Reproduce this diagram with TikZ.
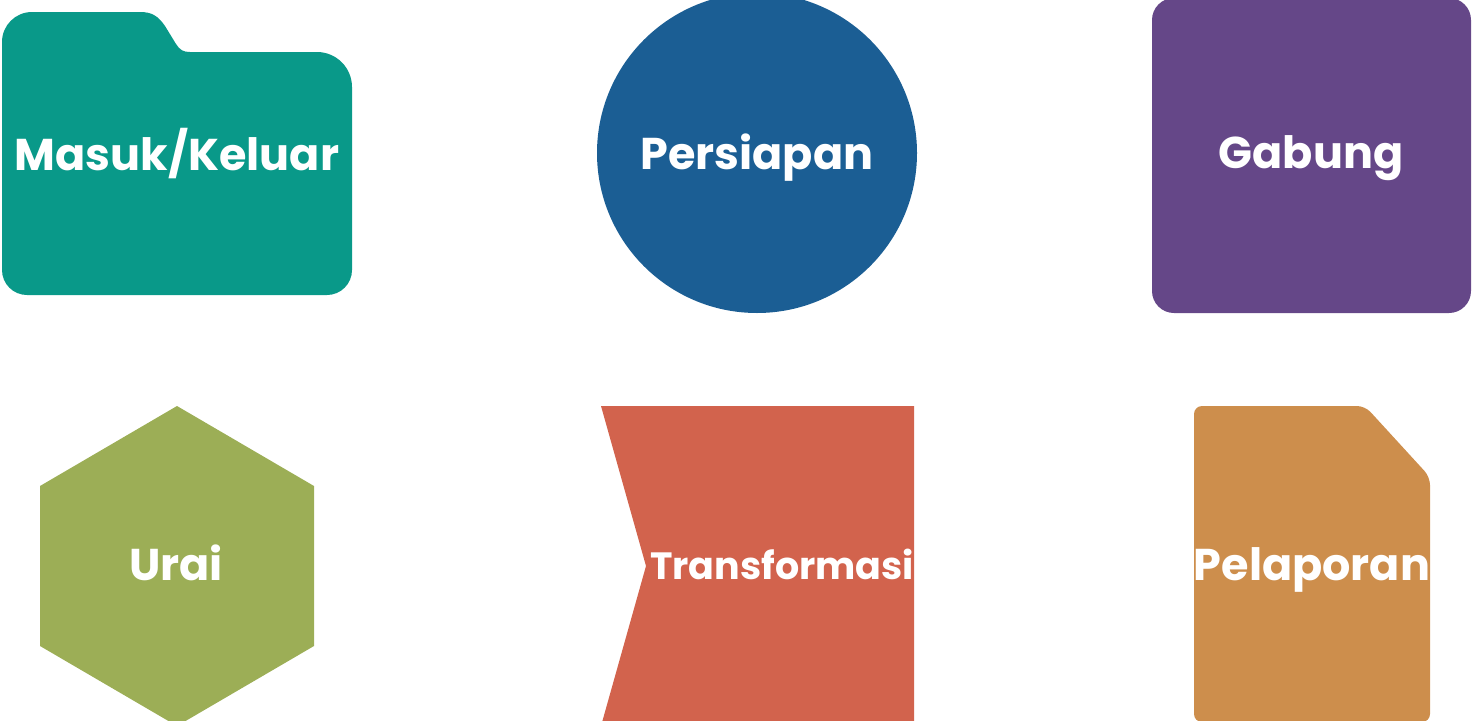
\documentclass[tikz,border=0pt]{standalone}
\usepackage{fontspec}
\setmainfont{Poppins}
\definecolor{cteal}{HTML}{099989}
\definecolor{cblue}{HTML}{1B5E94}
\definecolor{cpurple}{HTML}{654788}
\definecolor{cgreen}{HTML}{9CAE56}
\definecolor{cred}{HTML}{D2634D}
\definecolor{corange}{HTML}{CD8E4C}
\tikzset{
  lbl/.style={text=white, font=\fontsize{44.5}{53}\selectfont\bfseries, inner sep=0pt, anchor=base},
}
\begin{document}
\begin{tikzpicture}[x=1pt,y=-1pt]
\useasboundingbox (0,0) rectangle (1472,720);
\begin{scope}
\clip (0,0) rectangle (1472,720);
% folder
\fill[cteal] (2,265) -- (2,42) .. controls (2,25.4) and (15.4,12) .. (32,12)
  -- (140,12) .. controls (152,12) and (158,16) .. (165,26)
  -- (176,44) .. controls (180,50) and (183,52) .. (190,52)
  -- (317,52) .. controls (336.3,52) and (352,67.7) .. (352,87)
  -- (352,270) .. controls (352,283.8) and (340.8,295) .. (327,295)
  -- (27,295) .. controls (13.2,295) and (2,283.8) .. (2,270) -- cycle;
% circle
\fill[cblue] (757,153) circle[radius=160];
% rounded square
\fill[cpurple, rounded corners=22] (1152,-2) rectangle (1471,313);
% hexagon
\fill[cgreen] (177,406) -- (314,486) -- (314,646) -- (177,726) -- (40,646) -- (40,486) -- cycle;
% notched rectangle
\fill[cred] (601,406) -- (914,406) -- (914,726) -- (601,726) -- (646,566) -- cycle;
% document
\fill[corange, rounded corners=8] (1194,406) -- (1365,406) -- (1430,477) -- (1430,722) -- (1194,722) -- cycle;
\end{scope}
\node[lbl] (t1) at (177,170) {Masuk/Keluar};
\node[lbl] (t2) at (757,169) {Persiapan};
\node[lbl] (t3) at (1311,168) {Gabung};
\node[lbl] (t4) at (176,580) {Urai};
\node[lbl, font=\fontsize{38}{46}\selectfont\bfseries] (t5) at (782,579) {Transformasi};
\node[lbl] (t6) at (1312,580) {Pelaporan};
\end{tikzpicture}
\end{document}
